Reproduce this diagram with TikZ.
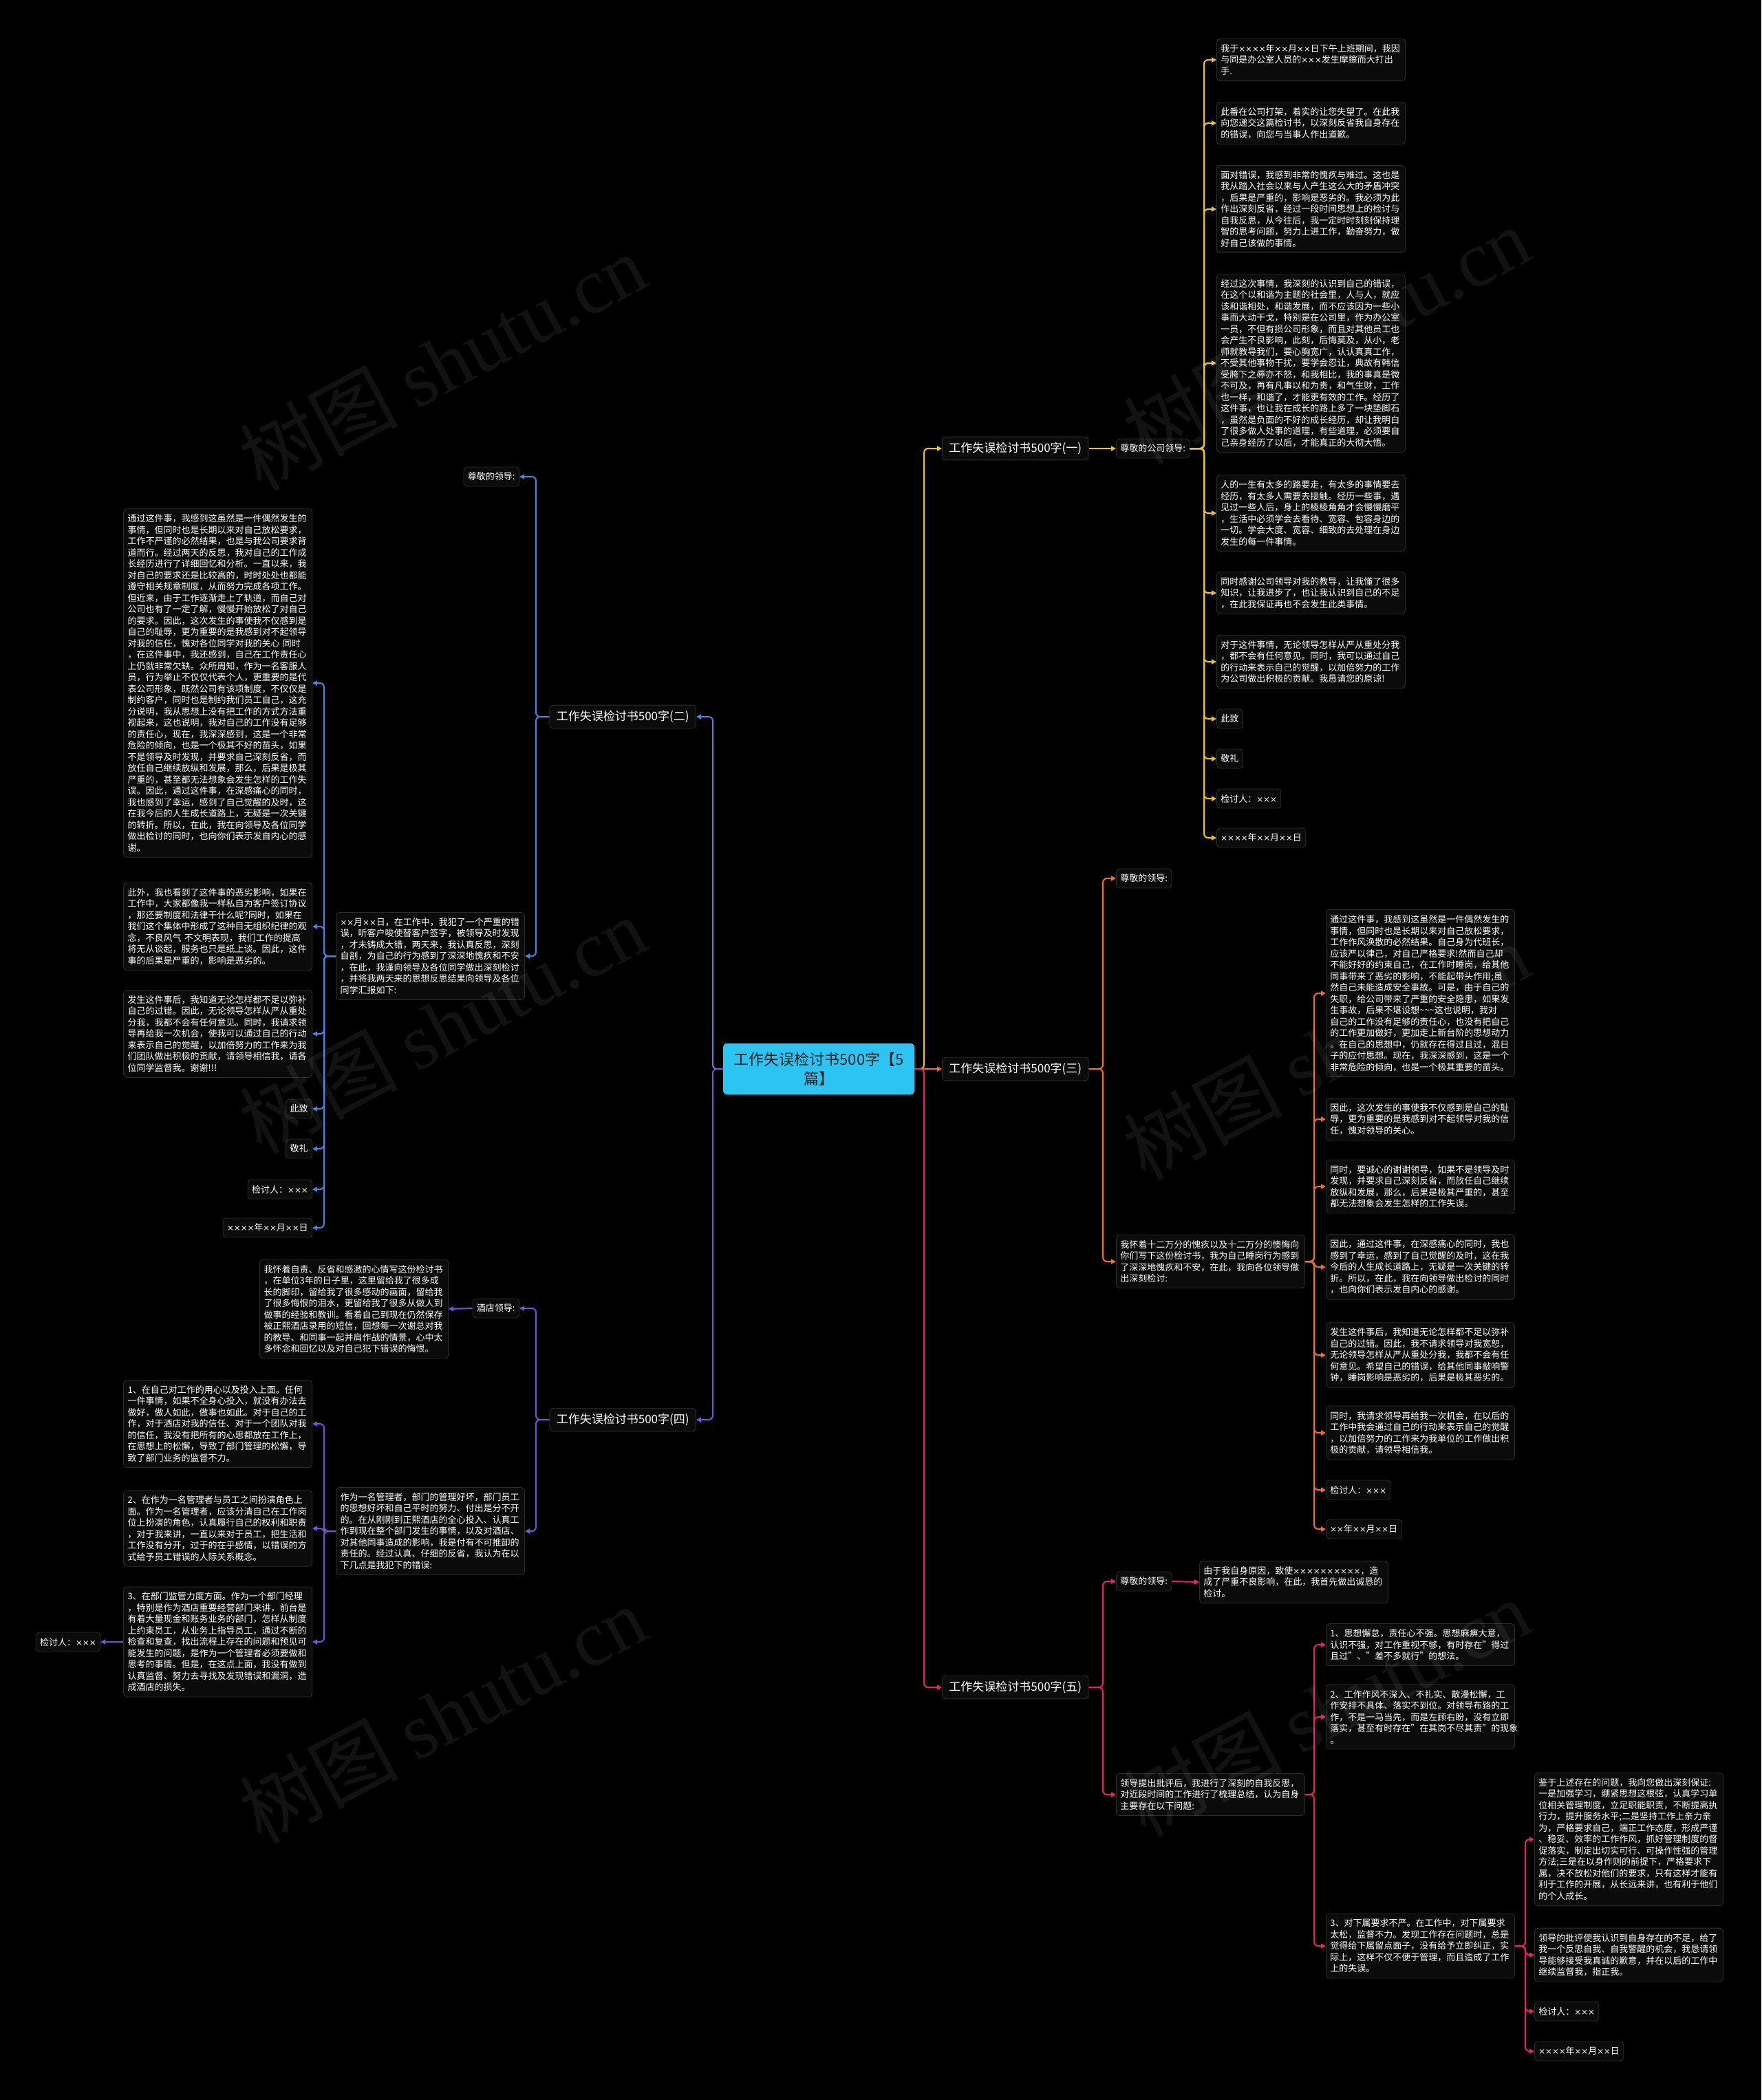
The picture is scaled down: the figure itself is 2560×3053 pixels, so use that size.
\documentclass[tikz,border=0pt]{standalone}
\usepackage{fontspec}
\setmainfont{Noto Sans CJK SC}
\newfontfamily\wmlatin{Liberation Serif}
\newfontfamily\xfont{DejaVu Sans}[Scale=0.9]
\catcode`\×=\active
\protected\def×{{\xfont\symbol{"00D7}}}
\usetikzlibrary{arrows.meta}
\definecolor{boxfill}{HTML}{0B0B0B}
\definecolor{boxline}{HTML}{2C2C2C}
\definecolor{cyel}{HTML}{F2C318}
\definecolor{cora}{HTML}{F0702E}
\definecolor{cpink}{HTML}{E8226C}
\definecolor{cblue}{HTML}{4D80E0}
\definecolor{cpurp}{HTML}{7B4FDD}
\definecolor{ccyan}{HTML}{2BC4F3}
\definecolor{ctext}{HTML}{1E1E1E}
\begin{document}
\begin{tikzpicture}[x=1pt,y=-1pt,
  leaf/.style={draw=boxline, line width=0.8pt, fill=boxfill, rounded corners=5pt, text=white,
    font=\fontsize{13}{16.5}\selectfont, align=left, text width=262pt, inner xsep=6pt, inner ysep=8pt},
  tag/.style={draw=boxline, line width=0.8pt, fill=boxfill, rounded corners=5pt, text=white,
    font=\fontsize{13}{16.5}\selectfont, inner xsep=6pt, inner ysep=8pt},
  branch/.style={draw=boxline, line width=0.8pt, fill=boxfill, rounded corners=6pt, text=white,
    font=\fontsize{17}{20}\selectfont, inner xsep=10pt, inner ysep=8pt},
  hub/.style={fill=ccyan, rounded corners=6pt, text=ctext, font=\fontsize{22}{28}\selectfont,
    align=center, text width=258pt, inner xsep=10pt, inner ysep=13pt},
  conn/.style={line width=2pt, rounded corners=6pt, -{Triangle[length=7pt,width=7pt]}},
  wmark/.style={text=white, opacity=0.07, font=\fontsize{115}{115}\selectfont, rotate=28}
]
\useasboundingbox (0,0) rectangle (2560,3053);
\fill[black] (0,0) rectangle (2560,3053);

% ---------------- centre ----------------
\node[hub] (c) at (1190,1554) {工作失误检讨书500字【5\\篇】};

% ---------------- branch nodes ----------------
\node[branch, anchor=west] (b1) at (1369,652) {工作失误检讨书500字(一)};
\node[branch, anchor=west] (b3) at (1369,1554) {工作失误检讨书500字(三)};
\node[branch, anchor=west] (b5) at (1369,2453) {工作失误检讨书500字(五)};
\node[branch, anchor=east] (b2) at (1012,1042) {工作失误检讨书500字(二)};
\node[branch, anchor=east] (b4) at (1012,2064) {工作失误检讨书500字(四)};

% ---------------- branch 1 ----------------
\node[tag, anchor=west] (k1) at (1622,652) {尊敬的公司领导:};
\node[leaf, anchor=west] (l1a) at (1768,87) {我于××××年××月××日下午上班期间，我因\\与同是办公室人员的×××发生摩擦而大打出\\手.};
\node[leaf, anchor=west] (l1b) at (1768,179) {此番在公司打架，着实的让您失望了。在此我\\向您递交这篇检讨书，以深刻反省我自身存在\\的错误，向您与当事人作出道歉。};
\node[leaf, anchor=west] (l1c) at (1768,304) {面对错误，我感到非常的愧疚与难过。这也是\\我从踏入社会以来与人产生这么大的矛盾冲突\\，后果是严重的，影响是恶劣的。我必须为此\\作出深刻反省，经过一段时间思想上的检讨与\\自我反思，从今往后，我一定时时刻刻保持理\\智的思考问题，努力上进工作，勤奋努力，做\\好自己该做的事情。};
\node[leaf, anchor=west] (l1d) at (1768,528) {经过这次事情，我深刻的认识到自己的错误，\\在这个以和谐为主题的社会里，人与人，就应\\该和谐相处，和谐发展，而不应该因为一些小\\事而大动干戈，特别是在公司里，作为办公室\\一员，不但有损公司形象，而且对其他员工也\\会产生不良影响，此刻，后悔莫及，从小，老\\师就教导我们，要心胸宽广，认认真真工作，\\不受其他事物干扰，要学会忍让，典故有韩信\\受胯下之辱亦不怒，和我相比，我的事真是微\\不可及，再有凡事以和为贵，和气生财，工作\\也一样，和谐了，才能更有效的工作。经历了\\这件事，也让我在成长的路上多了一块垫脚石\\，虽然是负面的不好的成长经历，却让我明白\\了很多做人处事的道理，有些道理，必须要自\\己亲身经历了以后，才能真正的大彻大悟。};
\node[leaf, anchor=west] (l1e) at (1768,746) {人的一生有太多的路要走，有太多的事情要去\\经历，有太多人需要去接触。经历一些事，遇\\见过一些人后，身上的棱棱角角才会慢慢磨平\\，生活中必须学会去看待、宽容、包容身边的\\一切。学会大度、宽容、细致的去处理在身边\\发生的每一件事情。};
\node[leaf, anchor=west] (l1f) at (1768,862) {同时感谢公司领导对我的教导，让我懂了很多\\知识，让我进步了，也让我认识到自己的不足\\，在此我保证再也不会发生此类事情。};
\node[leaf, anchor=west] (l1g) at (1768,962) {对于这件事情，无论领导怎样从严从重处分我\\，都不会有任何意见。同时，我可以通过自己\\的行动来表示自己的觉醒，以加倍努力的工作\\为公司做出积极的贡献。我恳请您的原谅!};
\node[tag, anchor=west] (l1h) at (1768,1045) {此致};
\node[tag, anchor=west] (l1i) at (1768,1103) {敬礼};
\node[tag, anchor=west] (l1j) at (1768,1161) {检讨人：×××};
\node[tag, anchor=west] (l1k) at (1768,1218) {××××年××月××日};

% ---------------- branch 3 ----------------
\node[tag, anchor=west] (k3) at (1622,1277) {尊敬的领导:};
\node[leaf, anchor=west] (i3) at (1622,1834) {我怀着十二万分的愧疚以及十二万分的懊悔向\\你们写下这份检讨书，我为自己睡岗行为感到\\了深深地愧疚和不安，在此，我向各位领导做\\出深刻检讨:};
\node[leaf, anchor=west] (l3a) at (1927,1444) {通过这件事，我感到这虽然是一件偶然发生的\\事情，但同时也是长期以来对自己放松要求，\\工作作风涣散的必然结果。自己身为代班长，\\应该严以律己，对自己严格要求!然而自己却\\不能好好的约束自己，在工作时睡岗，给其他\\同事带来了恶劣的影响，不能起带头作用;虽\\然自己未能造成安全事故。可是，由于自己的\\失职，给公司带来了严重的安全隐患，如果发\\生事故，后果不堪设想\textasciitilde\textasciitilde\textasciitilde 这也说明，我对\\自己的工作没有足够的责任心，也没有把自己\\的工作更加做好，更加走上新台阶的思想动力\\。在自己的思想中，仍就存在得过且过，混日\\子的应付思想。现在，我深深感到，这是一个\\非常危险的倾向，也是一个极其重要的苗头。};
\node[leaf, anchor=west] (l3b) at (1927,1627) {因此，这次发生的事使我不仅感到是自己的耻\\辱，更为重要的是我感到对不起领导对我的信\\任，愧对领导的关心。};
\node[leaf, anchor=west] (l3c) at (1927,1725) {同时，要诚心的谢谢领导，如果不是领导及时\\发现，并要求自己深刻反省，而放任自己继续\\放纵和发展，那么，后果是极其严重的，甚至\\都无法想象会发生怎样的工作失误。};
\node[leaf, anchor=west] (l3d) at (1927,1842) {因此，通过这件事，在深感痛心的同时，我也\\感到了幸运，感到了自己觉醒的及时，这在我\\今后的人生成长道路上，无疑是一次关键的转\\折。所以，在此，我在向领导做出检讨的同时\\，也向你们表示发自内心的感谢。};
\node[leaf, anchor=west] (l3e) at (1927,1970) {发生这件事后，我知道无论怎样都不足以弥补\\自己的过错。因此，我不请求领导对我宽恕，\\无论领导怎样从严从重处分我，我都不会有任\\何意见。希望自己的错误，给其他同事敲响警\\钟，睡岗影响是恶劣的，后果是极其恶劣的。};
\node[leaf, anchor=west] (l3f) at (1927,2083) {同时，我请求领导再给我一次机会，在以后的\\工作中我会通过自己的行动来表示自己的觉醒\\，以加倍努力的工作来为我单位的工作做出积\\极的贡献，请领导相信我。};
\node[tag, anchor=west] (l3g) at (1927,2166) {检讨人：×××};
\node[tag, anchor=west] (l3h) at (1927,2223) {××年××月××日};

% ---------------- branch 5 ----------------
\node[tag, anchor=west] (k5) at (1622,2299) {尊敬的领导:};
\node[leaf, anchor=west] (y5) at (1743,2300) {由于我自身原因，致使××××××××××，造\\成了严重不良影响，在此，我首先做出诚恳的\\检讨。};
\node[leaf, anchor=west] (i5) at (1622,2609) {领导提出批评后，我进行了深刻的自我反思，\\对近段时间的工作进行了梳理总结，认为自身\\主要存在以下问题:};
\node[leaf, anchor=west] (p1) at (1927,2391) {1、思想懈怠，责任心不强。思想麻痹大意，\\认识不强，对工作重视不够，有时存在"得过\\且过"、"差不多就行"的想法。};
\node[leaf, anchor=west] (p2) at (1927,2496) {2、工作作风不深入、不扎实、散漫松懈，工\\作安排不具体、落实不到位。对领导布臵的工\\作，不是一马当先，而是左顾右盼，没有立即\\落实，甚至有时存在"在其岗不尽其责"的现象\\。};
\node[leaf, anchor=west] (p3) at (1927,2829) {3、对下属要求不严。在工作中，对下属要求\\太松，监督不力。发现工作存在问题时，总是\\觉得给下属留点面子，没有给予立即纠正，实\\际上，这样不仅不便于管理，而且造成了工作\\上的失误。};
\node[leaf, anchor=west] (r1) at (2230,2674) {鉴于上述存在的问题，我向您做出深刻保证:\\一是加强学习，绷紧思想这根弦，认真学习单\\位相关管理制度，立足职能职责，不断提高执\\行力，提升服务水平;二是坚持工作上亲力亲\\为，严格要求自己，端正工作态度，形成严谨\\、稳妥、效率的工作作风，抓好管理制度的督\\促落实，制定出切实可行、可操作性强的管理\\方法;三是在以身作则的前提下，严格要求下\\属，决不放松对他们的要求，只有这样才能有\\利于工作的开展，从长远来讲，也有利于他们\\的个人成长。};
\node[leaf, anchor=west] (r2) at (2230,2842) {领导的批评使我认识到自身存在的不足，给了\\我一个反思自我、自我警醒的机会，我恳请领\\导能够接受我真诚的歉意，并在以后的工作中\\继续监督我，指正我。};
\node[tag, anchor=west] (r3) at (2230,2924) {检讨人：×××};
\node[tag, anchor=west] (r4) at (2230,2982) {××××年××月××日};

% ---------------- branch 2 ----------------
\node[tag, anchor=east] (k2) at (755,693) {尊敬的领导:};
\node[leaf, anchor=east] (i2) at (763,1390) {××月××日，在工作中，我犯了一个严重的错\\误，听客户唆使替客户签字，被领导及时发现\\，才未铸成大错，两天来，我认真反思，深刻\\自剖，为自己的行为感到了深深地愧疚和不安\\，在此，我谨向领导及各位同学做出深刻检讨\\，并将我两天来的思想反思结果向领导及各位\\同学汇报如下:};
\node[leaf, anchor=east] (m1) at (454,993) {通过这件事，我感到这虽然是一件偶然发生的\\事情，但同时也是长期以来对自己放松要求，\\工作不严谨的必然结果，也是与我公司要求背\\道而行。经过两天的反思，我对自己的工作成\\长经历进行了详细回忆和分析。一直以来，我\\对自己的要求还是比较高的，时时处处也都能\\遵守相关规章制度，从而努力完成各项工作。\\但近来，由于工作逐渐走上了轨道，而自己对\\公司也有了一定了解，慢慢开始放松了对自己\\的要求。因此，这次发生的事使我不仅感到是\\自己的耻辱，更为重要的是我感到对不起领导\\对我的信任，愧对各位同学对我的关心 同时\\，在这件事中，我还感到，自己在工作责任心\\上仍就非常欠缺。众所周知，作为一名客服人\\员，行为举止不仅仅代表个人，更重要的是代\\表公司形象，既然公司有该项制度，不仅仅是\\制约客户，同时也是制约我们员工自己，这充\\分说明，我从思想上没有把工作的方式方法重\\视起来，这也说明，我对自己的工作没有足够\\的责任心，现在，我深深感到，这是一个非常\\危险的倾向，也是一个极其不好的苗头，如果\\不是领导及时发现，并要求自己深刻反省，而\\放任自己继续放纵和发展，那么，后果是极其\\严重的，甚至都无法想象会发生怎样的工作失\\误。因此，通过这件事，在深感痛心的同时，\\我也感到了幸运，感到了自己觉醒的及时，这\\在我今后的人生成长道路上，无疑是一次关键\\的转折。所以，在此，我在向领导及各位同学\\做出检讨的同时，也向你们表示发自内心的感\\谢。};
\node[leaf, anchor=east] (m2) at (454,1347) {此外，我也看到了这件事的恶劣影响，如果在\\工作中，大家都像我一样私自为客户签订协议\\，那还要制度和法律干什么呢?同时，如果在\\我们这个集体中形成了这种目无组织纪律的观\\念，不良风气 不文明表现，我们工作的提高\\将无从谈起，服务也只是纸上谈。因此，这件\\事的后果是严重的，影响是恶劣的。};
\node[leaf, anchor=east] (m3) at (454,1503) {发生这件事后，我知道无论怎样都不足以弥补\\自己的过错。因此，无论领导怎样从严从重处\\分我，我都不会有任何意见。同时，我请求领\\导再给我一次机会，使我可以通过自己的行动\\来表示自己的觉醒，以加倍努力的工作来为我\\们团队做出积极的贡献，请领导相信我，请各\\位同学监督我。谢谢!!!};
\node[tag, anchor=east] (m4) at (454,1612) {此致};
\node[tag, anchor=east] (m5) at (454,1670) {敬礼};
\node[tag, anchor=east] (m6) at (454,1729) {检讨人：×××};
\node[tag, anchor=east] (m7) at (454,1785) {××××年××月××日};

% ---------------- branch 4 ----------------
\node[tag, anchor=east] (k4) at (755,1902) {酒店领导:};
\node[leaf, anchor=east] (w4) at (652,1903) {我怀着自责、反省和感激的心情写这份检讨书\\，在单位3年的日子里，这里留给我了很多成\\长的脚印，留给我了很多感动的画面，留给我\\了很多悔恨的泪水，更留给我了很多从做人到\\做事的经验和教训。看着自己到现在仍然保存\\被正熙酒店录用的短信，回想每一次谢总对我\\的教导、和同事一起并肩作战的情景，心中太\\多怀念和回忆以及对自己犯下错误的悔恨。};
\node[leaf, anchor=east] (i4) at (763,2226) {作为一名管理者，部门的管理好坏，部门员工\\的思想好坏和自己平时的努力、付出是分不开\\的。在从刚刚到正熙酒店的全心投入、认真工\\作到现在整个部门发生的事情，以及对酒店、\\对其他同事造成的影响，我是付有不可推卸的\\责任的。经过认真、仔细的反省，我认为在以\\下几点是我犯下的错误:};
\node[leaf, anchor=east] (q1) at (454,2070) {1、在自己对工作的用心以及投入上面。任何\\一件事情，如果不全身心投入，就没有办法去\\做好，做人如此，做事也如此。对于自己的工\\作，对于酒店对我的信任、对于一个团队对我\\的信任，我没有把所有的心思都放在工作上，\\在思想上的松懈，导致了部门管理的松懈，导\\致了部门业务的监督不力。};
\node[leaf, anchor=east] (q2) at (454,2222) {2、在作为一名管理者与员工之间扮演角色上\\面。作为一名管理者，应该分清自己在工作岗\\位上扮演的角色，认真履行自己的权利和职责\\，对于我来讲，一直以来对于员工，把生活和\\工作没有分开，过于的在乎感情，以错误的方\\式给予员工错误的人际关系概念。};
\node[leaf, anchor=east] (q3) at (454,2387) {3、在部门监管力度方面。作为一个部门经理\\，特别是作为酒店重要经营部门来讲，前台是\\有着大量现金和账务业务的部门，怎样从制度\\上约束员工，从业务上指导员工，通过不断的\\检查和复查，找出流程上存在的问题和预见可\\能发生的问题，是作为一个管理者必须要做和\\思考的事情。但是，在这点上面，我没有做到\\认真监督、努力去寻找及发现错误和漏洞，造\\成酒店的损失。};
\node[tag, anchor=east] (s4) at (146,2387) {检讨人：×××};

% ---------------- bus coordinates ----------------
\coordinate (rb) at (1343,1554);
\coordinate (lb) at (1036,1554);
\coordinate (k1b) at (1750,652);
\coordinate (b3b) at (1603,1554);
\coordinate (i3b) at (1910,1834);
\coordinate (b5b) at (1603,2453);
\coordinate (i5b) at (1910,2609);
\coordinate (p3b) at (2217,2829);
\coordinate (b2b) at (779,1042);
\coordinate (i2b) at (471,1390);
\coordinate (b4b) at (779,2064);
\coordinate (i4b) at (471,2226);

% ---------------- connectors ----------------
\draw[conn, cyel] (c.east) -- (rb) |- (b1.west);
\draw[conn, cora] (c.east) -- (b3.west);
\draw[conn, cpink] (c.east) -- (rb) |- (b5.west);
\draw[conn, cblue] (c.west) -- (lb) |- (b2.east);
\draw[conn, cpurp] (c.west) -- (lb) |- (b4.east);

\draw[conn, cyel] (b1.east) -- (k1.west);
\foreach \n in {l1a,l1b,l1c,l1d,l1e,l1f,l1g,l1h,l1i,l1j,l1k}
  \draw[conn, cyel] (k1.east) -- (k1b) |- (\n.west);

\draw[conn, cora] (b3.east) -- (b3b) |- (k3.west);
\draw[conn, cora] (b3.east) -- (b3b) |- (i3.west);
\foreach \n in {l3a,l3b,l3c,l3d,l3e,l3f,l3g,l3h}
  \draw[conn, cora] (i3.east) -- (i3b) |- (\n.west);

\draw[conn, cpink] (b5.east) -- (b5b) |- (k5.west);
\draw[conn, cpink] (b5.east) -- (b5b) |- (i5.west);
\draw[conn, cpink] (k5.east) -- (y5.west);
\foreach \n in {p1,p2,p3}
  \draw[conn, cpink] (i5.east) -- (i5b) |- (\n.west);
\foreach \n in {r1,r2,r3,r4}
  \draw[conn, cpink] (p3.east) -- (p3b) |- (\n.west);

\draw[conn, cblue] (b2.west) -- (b2b) |- (k2.east);
\draw[conn, cblue] (b2.west) -- (b2b) |- (i2.east);
\foreach \n in {m1,m2,m3,m4,m5,m6,m7}
  \draw[conn, cblue] (i2.west) -- (i2b) |- (\n.east);

\draw[conn, cpurp] (b4.west) -- (b4b) |- (k4.east);
\draw[conn, cpurp] (b4.west) -- (b4b) |- (i4.east);
\draw[conn, cpurp] (k4.west) -- (w4.east);
\foreach \n in {q1,q2,q3}
  \draw[conn, cpurp] (i4.west) -- (i4b) |- (\n.east);
\draw[conn, cpurp] (q3.west) -- (s4.east);

% ---------------- watermarks ----------------
\node[wmark] (wm1) at (643,526) {树图 {\wmlatin shutu.cn}};
\node[wmark] (wm2) at (643,1490) {树图 {\wmlatin shutu.cn}};
\node[wmark] (wm3) at (643,2492) {树图 {\wmlatin shutu.cn}};
\node[wmark] (wm4) at (1928,487) {树图 {\wmlatin shutu.cn}};
\node[wmark] (wm5) at (1928,1528) {树图 {\wmlatin shutu.cn}};
\node[wmark] (wm6) at (1928,2482) {树图 {\wmlatin shutu.cn}};
\end{tikzpicture}
\end{document}
